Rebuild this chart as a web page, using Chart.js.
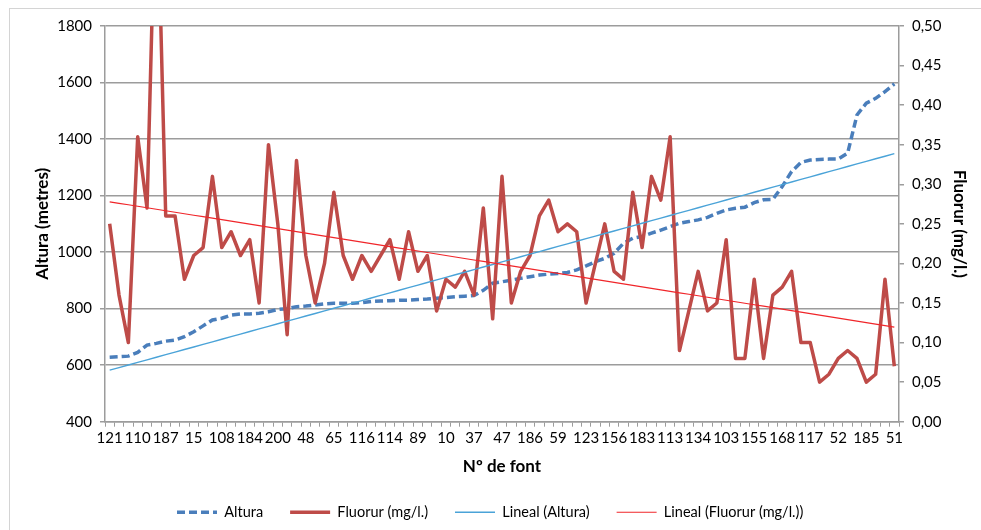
<!DOCTYPE html>
<html><head><meta charset="utf-8">
<script src="https://cdn.jsdelivr.net/npm/chart.js@4.4.0/dist/chart.umd.min.js"></script>
<style>html,body{margin:0;padding:0;background:#fff;overflow:hidden}#wrap{position:relative;width:981px;height:530px}</style>
</head><body><div id="wrap"><canvas id="c" width="981" height="530"></canvas></div>
<script>
// Visible category labels (every third "Nº de font" is labelled on the axis)
const visibleFontLabels = ['121','110','187','15','108','184','200','48','65','116','114','89','10','37','47','186','59','123','156','183','113','134','103','155','168','117','52','185','51'];
// Altura (metres) per font, sorted ascending as in the picture
const altura = [628,630,632,645,671,677,685,689,701,718,
  739,760,766,777,781,781,784,789,797,800,
  807,809,813,817,819,819,819,821,825,827,
  828,830,830,832,834,837,839,842,844,846,
  865,890,895,901,907,913,919,922,924,928,
  937,951,966,978,996,1031,1049,1055,1067,1078,
  1090,1102,1108,1114,1123,1137,1149,1155,1159,1175,
  1185,1187,1232,1285,1317,1326,1328,1329,1329,1350,
  1485,1527,1544,1568,1595];
// Fluorur (mg/l.)
const fluorur = [0.25,0.16,0.10,0.36,0.27,0.72,0.26,0.26,0.18,0.21,
  0.22,0.31,0.22,0.24,0.21,0.23,0.15,0.35,0.25,0.11,
  0.33,0.21,0.15,0.20,0.29,0.21,0.18,0.21,0.19,0.21,
  0.23,0.18,0.24,0.19,0.21,0.14,0.18,0.17,0.19,0.16,
  0.27,0.13,0.31,0.15,0.19,0.21,0.26,0.28,0.24,0.25,
  0.24,0.15,0.20,0.25,0.19,0.18,0.29,0.22,0.31,0.28,
  0.36,0.09,0.14,0.19,0.14,0.15,0.23,0.08,0.08,0.18,
  0.08,0.16,0.17,0.19,0.10,0.10,0.05,0.06,0.08,0.09,
  0.08,0.05,0.06,0.18,0.07];
const seriesNames = ['Altura','Fluorur (mg/l.)','Lineal (Altura)','Lineal (Fluorur (mg/l.))'];
const xTitle = 'Nº de font';
const yLeftTitle = 'Altura (metres)';
const yRightTitle = 'Fluorur (mg/l.)';

// categories: labelled every third, the others are not shown in the picture
const categories = altura.map((_, i) => (i % 3 === 0 ? visibleFontLabels[i / 3] : ''));

function linearFit(arr) {
  const n = arr.length;
  let sx = 0, sy = 0, sxy = 0, sxx = 0;
  arr.forEach((y, i) => { const x = i + 1; sx += x; sy += y; sxy += x * y; sxx += x * x; });
  const b = (n * sxy - sx * sy) / (n * sxx - sx * sx);
  const a = (sy - b * sx) / n;
  return arr.map((_, i) => a + b * (i + 1));
}
const trendAltura = linearFit(altura);
const trendFluor = linearFit(fluorur);

const FONT = 'Lato, "Open Sans", sans-serif';
const gridCol = '#9c9c9c';
const LEG_PAD = 27;

const framePlugin = {
  id: 'frame',
  beforeDraw(chart) {
    const ctx = chart.ctx;
    ctx.save();
    ctx.strokeStyle = '#d4d4d4';
    ctx.lineWidth = 1;
    ctx.strokeRect(9.5, 8.5, 1200, 1200);
    ctx.restore();
  },
  afterLayout(chart) {
    if (chart.legend) {
      chart.legend.left = 177 - LEG_PAD;
      chart.legend.top = 514 - LEG_PAD - 9;
    }
  }
};

new Chart(document.getElementById('c'), {
  type: 'line',
  data: {
    labels: categories,
    datasets: [
      { label: seriesNames[0], data: altura, yAxisID: 'y', borderColor: '#4a7ebb', backgroundColor: '#4a7ebb',
        borderWidth: 3.5, borderDash: [8, 4], pointRadius: 0, tension: 0, order: 3 },
      { label: seriesNames[1], data: fluorur, yAxisID: 'y1', borderColor: '#be4b48', backgroundColor: '#be4b48',
        borderWidth: 3.5, pointRadius: 0, tension: 0, order: 2, borderJoinStyle: 'round' },
      { label: seriesNames[2], data: trendAltura, yAxisID: 'y', borderColor: '#4aa3d8', backgroundColor: '#4aa3d8',
        borderWidth: 1.4, pointRadius: 0, order: 1 },
      { label: seriesNames[3], data: trendFluor, yAxisID: 'y1', borderColor: '#f0262a', backgroundColor: '#f0262a',
        borderWidth: 1.2, pointRadius: 0, order: 0 }
    ]
  },
  options: {
    responsive: false,
    animation: false,
    layout: { padding: { top: 26, left: 0, right: 0, bottom: 0 } },
    plugins: {
      tooltip: { enabled: false },
      legend: {
        position: 'bottom',
        align: 'start',
        maxHeight: 40,
        labels: {
          sort: (a, b) => a.datasetIndex - b.datasetIndex,
          usePointStyle: true,
          pointStyle: 'line',
          pointStyleWidth: 40,
          padding: LEG_PAD,
          color: '#000',
          font: { family: FONT, size: 14.5 },
          generateLabels(chart) {
            const items = Chart.defaults.plugins.legend.labels.generateLabels(chart);
            items.forEach(it => {
              const ds = chart.data.datasets[it.datasetIndex];
              it.lineDash = ds.borderDash || [];
              it.lineWidth = ds.borderWidth;
              it.strokeStyle = ds.borderColor;
              it.fillStyle = ds.borderColor;
              it.lineCap = 'butt';
            });
            return items;
          }
        }
      }
    },
    scales: {
      x: {
        type: 'category',
        offset: true,
        afterFit: s => { s.height = 68.3; },
        grid: { drawOnChartArea: false, offset: true, color: gridCol, lineWidth: 1, tickLength: 5, tickColor: gridCol },
        border: { color: gridCol, width: 1.5 },
        ticks: { autoSkip: false, maxRotation: 0, minRotation: 0, padding: 2, color: '#000', font: { family: FONT, size: 15 } },
        title: { display: true, text: xTitle, color: '#000', font: { family: FONT, size: 17, weight: 'bold' }, padding: { top: 0, bottom: 13 } }
      },
      y: {
        position: 'left',
        min: 400, max: 1800,
        afterFit: s => { s.width = 105; },
        ticks: { stepSize: 200, padding: 8, color: '#000', font: { family: FONT, size: 15 }, callback: v => String(v) },
        grid: { color: gridCol, lineWidth: 1.5, tickLength: 5 },
        border: { color: gridCol, width: 1.5 },
        title: { display: true, text: yLeftTitle, color: '#000', font: { family: FONT, size: 17, weight: 'bold' }, padding: { top: 32, bottom: 0 } }
      },
      y1: {
        position: 'right',
        min: 0, max: 0.5,
        afterFit: s => { s.width = 82; },
        ticks: { stepSize: 0.05, padding: 8, color: '#000', font: { family: FONT, size: 15 },
          callback: v => Number(v).toFixed(2).replace('.', ',') },
        grid: { drawOnChartArea: false, color: gridCol, lineWidth: 1.5, tickLength: 5 },
        border: { color: gridCol, width: 1.5 },
        title: { display: true, text: yRightTitle, color: '#000', font: { family: FONT, size: 17, weight: 'bold' }, padding: { top: 11, bottom: 0 } }
      }
    }
  },
  plugins: [framePlugin]
});
</script>
</body></html>
